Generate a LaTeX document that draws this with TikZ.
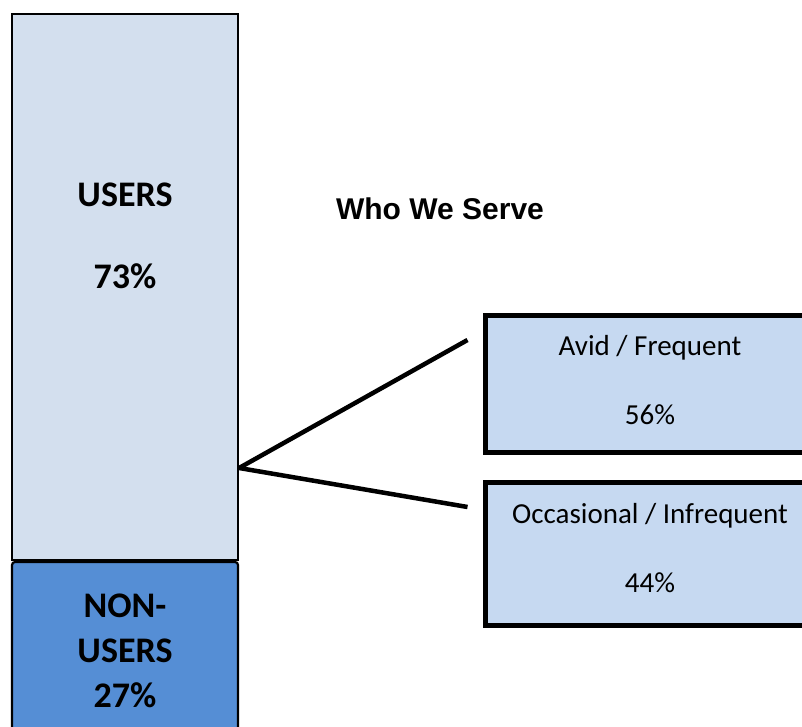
\documentclass[tikz,border=0pt]{standalone}
\usepackage{fontspec}
\setmainfont{Carlito}
\newfontfamily\arialfont{Liberation Sans}
\usepackage{tikz}
\usetikzlibrary{positioning,calc}
\definecolor{ink}{HTML}{000000}
\definecolor{userbg}{HTML}{D3DFEE}
\definecolor{nonuserbg}{HTML}{558ED5}
\definecolor{segbg}{HTML}{C6D9F1}
\tikzset{
  x=1pt,y=1pt,
  every node/.style={text=ink},
  bar/.style={draw=ink,line width=2.2pt,inner sep=0pt,minimum width=226pt},
  segment/.style={draw=ink,line width=5pt,fill=segbg,inner sep=0pt,minimum width=330pt},
  barlbl/.style={font=\fontsize{36}{45}\selectfont\bfseries,align=center},
  seglbl/.style={font=\fontsize{29}{35}\selectfont},
  title/.style={font=\arialfont\fontsize{30}{36}\selectfont\bfseries},
  fork/.style={draw=ink,line width=4.5pt}
}
\begin{document}
\begin{tikzpicture}
  \useasboundingbox (0,0) rectangle (802,727);
  \clip (0,0) rectangle (802,727);

  % users / non-users bar
  \node[bar,fill=userbg,minimum height=546pt] (users) at (125,440) {};
  \node[bar,fill=nonuserbg,rounded corners=3pt,minimum height=200pt] (nonusers) at (125,65) {};
  \node[barlbl] (userslbl) at (125,532) {USERS};
  \node[barlbl] (userspct) at (125,451) {73\%};
  \node[barlbl] (nonuserslbl) at (125,76) {NON-\\USERS\\27\%};

  \node[title] (title) at (440,518) {Who We Serve};

  % segments of users
  \node[segment,minimum height=137pt] (avid) at (650,342.5) {};
  \node[segment,minimum height=143pt] (occ) at (650,172.5) {};
  \node[seglbl] (avidlbl) at (650,379) {Avid / Frequent};
  \node[seglbl] (avidpct) at (650,312) {56\%};
  \node[seglbl] (occlbl) at (650,211) {Occasional / Infrequent};
  \node[seglbl] (occpct) at (650,144) {44\%};

  \coordinate (split) at (users.east |- 0,259);
  \coordinate (avidend) at ($(avid.west)+(-15,44.5)$);
  \coordinate (occend) at ($(occ.west)+(-15,47.5)$);
  \draw[fork] (split) -- (avidend);
  \draw[fork] (split) -- (occend);
\end{tikzpicture}
\end{document}
